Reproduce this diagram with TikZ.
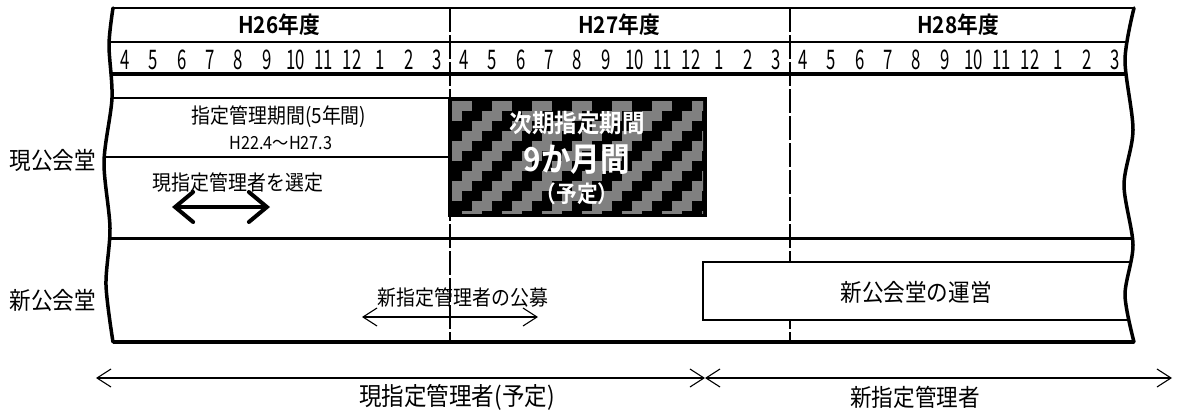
\documentclass[tikz,border=0pt]{standalone}
\usepackage{fontspec}
\setmainfont{Noto Sans CJK JP}[FakeStretch=0.9,BoldFont={Noto Sans CJK JP Bold}]
\newfontfamily\numfont{Noto Sans CJK JP}[FakeStretch=0.62]
\usetikzlibrary{arrows.meta}
\begin{document}
\begin{tikzpicture}[x=1pt,y=-1pt,
  txt/.style={inner sep=0pt,font=\fontsize{21}{24}\selectfont},
  rowlbl/.style={inner sep=0pt,font=\fontsize{24}{26}\selectfont},
  yearlbl/.style={inner sep=0pt,font=\bfseries\fontsize{23}{26}\selectfont},
  monlbl/.style={inner sep=0pt,font=\numfont\fontsize{27}{29}\selectfont},
  whitelbl/.style={inner sep=0pt,text=white,font=\bfseries\fontsize{25}{28}\selectfont},
  gridline/.style={line width=2pt},
  boundary/.style={line width=3.5pt,line cap=round},
  fydash/.style={line width=1.3pt,dash pattern=on 24pt off 3pt},
  thinarrow/.style={line width=1.1pt,{Straight Barb[length=14pt,width=18pt]}-{Straight Barb[length=14pt,width=18pt]}},
  thickarrow/.style={line width=4pt,line cap=round,{Straight Barb[length=18pt,width=30pt,line cap=round]}-{Straight Barb[length=18pt,width=30pt,line cap=round]}}
]
\useasboundingbox (0,0) rectangle (1179,410);

% clipped interior
\begin{scope}
\clip plot[smooth] coordinates {(113,8) (109,45) (112,98) (104,162) (110,228) (106,285) (113,342)}
  -- plot[smooth] coordinates {(1134,342) (1125,295) (1133,245) (1124,185) (1133,130) (1125,60) (1134,8)} -- cycle;
\draw[gridline] (90,42) -- (1160,42);
\draw[line width=3.5pt] (90,74) -- (1160,74);
\draw[line width=1.8pt] (90,98) -- (450,98);
\draw[line width=1.6pt] (90,157) -- (450,157);
\draw[line width=3pt] (90,238) -- (1160,238);
\draw[fydash] (450,8) -- (450,342);
\draw[fydash] (790,8) -- (790,342);
\draw[line width=1.8pt,fill=white] (703,262) rectangle (1150,320);
\end{scope}

\draw[gridline] (113,8) -- (1134,8);
\draw[line width=4pt] (113,342) -- (1134,342);

% boundaries
\draw[boundary] plot[smooth] coordinates {(113,8) (109,45) (112,98) (104,162) (110,228) (106,285) (113,342)};
\draw[boundary] plot[smooth] coordinates {(1134,8) (1125,60) (1133,130) (1124,185) (1133,245) (1125,295) (1134,342)};

% year headers
\node[yearlbl] (y26) at (279,25) {H26年度};
\node[yearlbl] (y27) at (619,25) {H27年度};
\node[yearlbl] (y28) at (958,25) {H28年度};

% months
\foreach \k in {0,...,35}{
  \pgfmathtruncatemacro\mm{mod(\k+3,12)+1}
  \pgfmathsetmacro\xx{125+339*floor(\k/12)+28.4*mod(\k,12)}
  \node[monlbl] (m\k) at (\xx,60) {\mm};
}

% row labels
\node[rowlbl] (cur) at (53,160) {現公会堂};
\node[rowlbl] (new) at (53,300) {新公会堂};

% current period
\node[txt] (period) at (279,117) {指定管理期間(5年間)};
\node[txt,font=\fontsize{18}{20}\selectfont] (dates) at (281,143) {H22.4～H27.3};
\node[txt] (select) at (238,183) {現指定管理者を選定};
\coordinate (sa) at (172,207);
\coordinate (sb) at (270,207);
\draw[thickarrow] (sa) -- (sb);

% black patterned box
\fill[black] (448,97) rectangle (707,217);
\begin{scope}
\clip (452,101) rectangle (703,213);
\foreach \i in {0,...,25}{
  \foreach \j in {0,...,11}{
    \pgfmathtruncatemacro\m{mod(\i+\j,4)}
    \ifnum\m<2
      \fill[gray] ({452+10*\i},{101+10*\j}) rectangle ++(10,10);
    \fi
  }
}
\end{scope}
\node[whitelbl] (next1) at (577,123) {次期指定期間};
\node[whitelbl,font=\bfseries\fontsize{33}{36}\selectfont] (next2) at (577,160) {9か月間};
\node[whitelbl,font=\bfseries\fontsize{23}{26}\selectfont] (next3) at (577,194) {（予定）};

% new hall
\node[txt] (koubo) at (463,298) {新指定管理者の公募};
\coordinate (ka) at (362,317);
\coordinate (kb) at (538,317);
\draw[thinarrow] (ka) -- (kb);
\node[rowlbl] (unei) at (916,292) {新公会堂の運営};

% bottom arrows
\coordinate (ba) at (96,378);
\coordinate (bm) at (705,378);
\coordinate (bb) at (1172,378);
\draw[thinarrow] (ba) -- (bm);
\draw[thinarrow] (bm) -- (bb);
\node[rowlbl,font=\fontsize{25}{28}\selectfont] (curmgr) at (457,397) {現指定管理者(予定)};
\node[rowlbl] (newmgr) at (915,397) {新指定管理者};
\end{tikzpicture}
\end{document}
